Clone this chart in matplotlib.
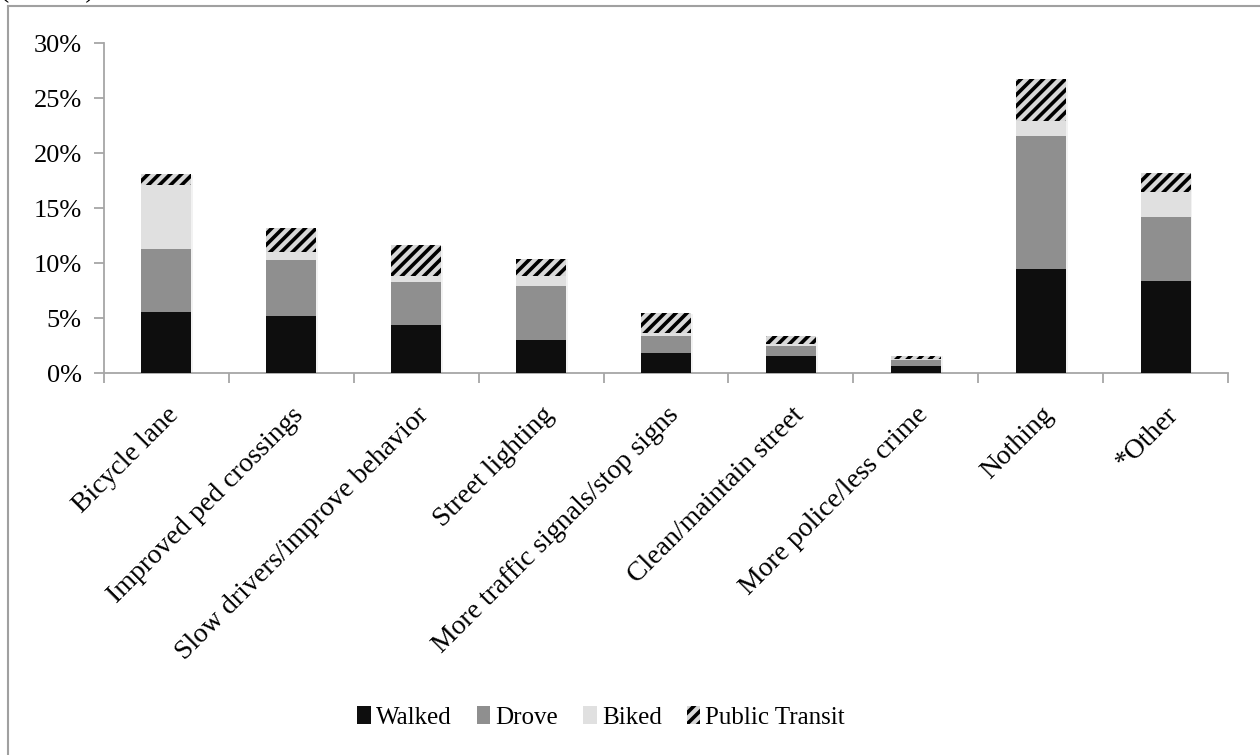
import numpy as np
import matplotlib
matplotlib.use("Agg")
import matplotlib.pyplot as plt
import matplotlib.transforms as mtransforms
from matplotlib.lines import Line2D
from matplotlib.ticker import PercentFormatter

plt.rcParams['font.family'] = ['Liberation Serif', 'DejaVu Serif']
plt.rcParams['hatch.linewidth'] = 2.6

categories = ['Bicycle lane', 'Improved ped crossings', 'Slow drivers/improve behavior',
              'Street lighting', 'More traffic signals/stop signs', 'Clean/maintain street',
              'More police/less crime', 'Nothing', '*Other']

# share of respondents (%) by travel mode
walked = [5.6, 5.25, 4.35, 3.0, 1.8, 1.6, 0.65, 9.5, 8.4]
drove = [5.7, 5.05, 3.95, 4.95, 1.55, 0.9, 0.6, 12.1, 5.8]
biked = [5.8, 0.75, 0.5, 0.9, 0.35, 0.2, 0.05, 1.3, 2.25]
transit = [1.0, 2.15, 2.85, 1.55, 1.75, 0.65, 0.3, 3.9, 1.75]

fig = plt.figure(figsize=(12.6, 7.55), dpi=100)
ax = fig.add_axes([0.0825, 0.5056, 0.8921, 0.437])

x = np.arange(len(categories))
w = 0.4
bottom = np.zeros(len(categories))
series = [('Walked', walked, '#0e0e0e', None),
          ('Drove', drove, '#8f8f8f', None),
          ('Biked', biked, '#e0e0e0', None),
          ('Public Transit', transit, '#d8d8d8', '///')]
for name, vals, col, hatch in series:
    vals = np.array(vals)
    # edgecolor sets the hatch colour; linewidth 0 keeps the outline off
    ax.bar(x, vals, w, bottom=bottom, color=col, hatch=hatch, label=name,
           edgecolor='#000000' if hatch else col, linewidth=0, zorder=3)
    bottom += vals

# faint drop shadow on the stacked columns
ax.bar(x + 0.01, bottom, w + 0.01, bottom=-0.05, color='#000000', alpha=0.05,
       linewidth=0, zorder=2)

ax.set_xlim(-0.5, 8.5)
ax.set_ylim(0, 30)
ax.set_yticks(np.arange(0, 31, 5))
ax.yaxis.set_major_formatter(PercentFormatter(decimals=0))
ax.set_xticks(np.arange(-0.5, 9, 1))
ax.set_xticklabels([])
ax.set_xticks(x, minor=True)
labels = ax.set_xticklabels(categories, minor=True, rotation=45, ha='right',
                            rotation_mode='anchor', fontsize=20)
shift = mtransforms.ScaledTranslation(5 / 100, 0, fig.dpi_scale_trans)
for lab in labels:
    lab.set_transform(lab.get_transform() + shift)
ax.tick_params(axis='x', which='minor', length=0, pad=21)
ax.tick_params(axis='x', which='major', length=7, color='#a6a6a6', width=1.3)
ax.tick_params(axis='y', length=7, color='#a6a6a6', width=1.3, labelsize=19, pad=9)

for side in ['top', 'right']:
    ax.spines[side].set_visible(False)
for side in ['left', 'bottom']:
    ax.spines[side].set_color('#a6a6a6')
    ax.spines[side].set_linewidth(1.3)

handles, legend_labels = ax.get_legend_handles_labels()
fig.legend(handles, legend_labels, loc='center', bbox_to_anchor=(0.477, 0.05), ncol=4,
           frameon=False, fontsize=18, handlelength=0.55, handleheight=0.75,
           handletextpad=0.2, columnspacing=1.0)

# outer chart frame
fig.add_artist(Line2D([8 / 1260, 8 / 1260], [0, 1 - 6 / 755], transform=fig.transFigure,
                      color='#a0a0a0', lw=1.5))
fig.add_artist(Line2D([8 / 1260, 1], [1 - 6 / 755, 1 - 6 / 755], transform=fig.transFigure,
                      color='#a0a0a0', lw=1.5))
fig.text(0.0, 1.004, '(N=330).', fontsize=20, va='baseline', ha='left')

fig.savefig('out.png', dpi=100)
